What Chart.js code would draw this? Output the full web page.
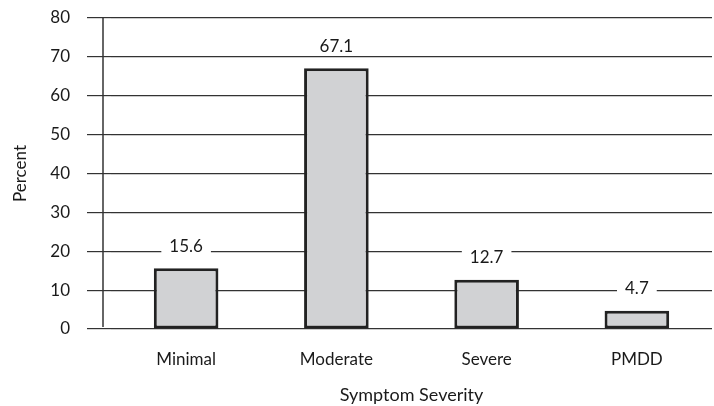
<!DOCTYPE html>
<html>
<head>
<meta charset="utf-8">
<script src="https://cdn.jsdelivr.net/npm/chart.js@4"></script>
<style>
  html, body { margin: 0; padding: 0; background: #fff; }
  #wrap { width: 714px; height: 406px; }
</style>
</head>
<body>
<div id="wrap"><canvas id="chart" width="714" height="406"></canvas></div>
<script>
// data
const categories = ['Minimal', 'Moderate', 'Severe', 'PMDD'];
const percents = [15.6, 67.1, 12.7, 4.7];
const yTicks = [0, 10, 20, 30, 40, 50, 60, 70, 80];

const fontFamily = 'Lato, "Open Sans", sans-serif';
const ink = '#1a1a1a';

// {{{ axisLine - the free standing vertical line left of the bars
const axisLine =
{
  id: 'axisLine',
  beforeDatasetsDraw(chart)
  {
    let ctx = chart.ctx;
    let y = chart.scales.y;
    let x = chart.chartArea.left - 8;
    ctx.save();
    ctx.strokeStyle = '#333';
    ctx.lineWidth = 1.5;
    ctx.beginPath();
    ctx.moveTo(x, y.getPixelForValue(yTicks[yTicks.length - 1]));
    ctx.lineTo(x, y.getPixelForValue(0) - 2);
    ctx.stroke();
    ctx.restore();
  }
};
// }}}
// {{{ valueLabels - numbers over the bars, on a white patch over the grid
const valueLabels =
{
  id: 'valueLabels',
  afterDatasetsDraw(chart)
  {
    let ctx = chart.ctx;
    let meta = chart.getDatasetMeta(0);
    ctx.save();
    ctx.font = '17px ' + fontFamily;
    ctx.textAlign = 'center';
    ctx.textBaseline = 'middle';
    meta.data.forEach((bar, i) =>
    {
      let txt = String(percents[i]);
      let cy = bar.y - 22;
      let w = ctx.measureText(txt).width + 16;
      ctx.fillStyle = '#fff';
      ctx.fillRect(bar.x - w / 2, cy - 9, w, 18);
      ctx.fillStyle = ink;
      ctx.fillText(txt, bar.x, cy);
    });
    ctx.restore();
  }
};
// }}}

new Chart(document.getElementById('chart'),
{
  type: 'bar',
  data:
  {
    labels: categories,
    datasets: [{
      data: percents,
      backgroundColor: '#d1d2d4',
      borderColor: '#222',
      borderWidth: 3,
      borderSkipped: false,
      categoryPercentage: 1,
      barPercentage: 0.43
    }]
  },
  options:
  {
    responsive: false,
    animation: false,
    layout: {padding: {top: 18, right: 2, left: 0, bottom: 0}},
    plugins: {legend: {display: false}, tooltip: {enabled: false}, title: {display: false}},
    scales:
    {
      x:
      {
        grid: {display: false},
        border: {display: false},
        ticks: {color: ink, font: {family: fontFamily, size: 17}, padding: 12},
        title: {display: true, text: 'Symptom Severity', color: ink, font: {family: fontFamily, size: 18}, padding: {top: 8, bottom: 0}},
        afterFit: (s) => { s.height = 77; s.paddingLeft = 0; s.paddingRight = 0; }
      },
      y:
      {
        min: yTicks[0],
        max: yTicks[yTicks.length - 1],
        afterBuildTicks: (s) => { s.ticks = yTicks.map((v) => ({value: v})); },
        grid: {color: '#333', lineWidth: 1.2, drawTicks: true, tickLength: 24, tickColor: '#333'},
        border: {display: false},
        ticks: {color: ink, font: {family: fontFamily, size: 17}, padding: 17},
        title: {display: true, text: 'Percent', color: ink, font: {family: fontFamily, size: 17}, padding: {top: 10, bottom: 0}},
        afterFit: (s) => { s.width = 111; s.paddingTop = 0; s.paddingBottom = 0; }
      }
    }
  },
  plugins: [axisLine, valueLabels]
});
</script>
</body>
</html>
